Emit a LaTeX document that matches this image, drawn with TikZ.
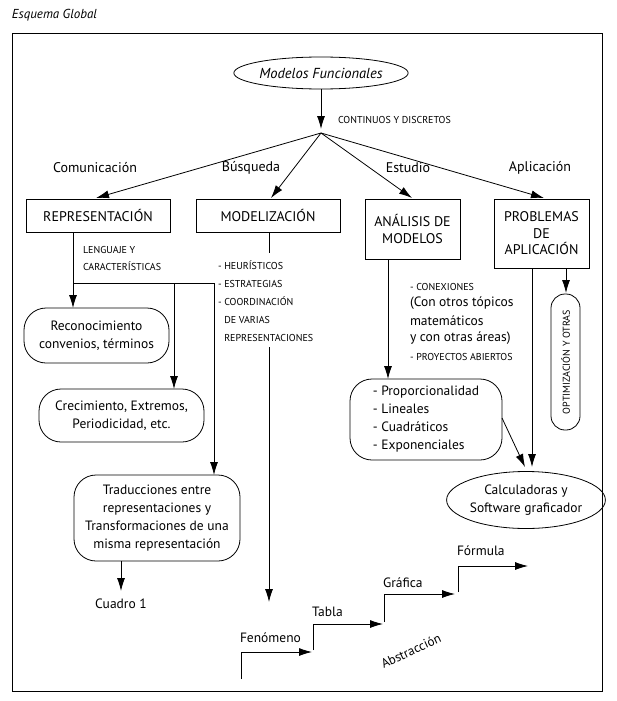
\documentclass[tikz,border=0pt]{standalone}
\usepackage{fontspec}
\setmainfont{PT Sans}
\usetikzlibrary{arrows.meta,shapes.geometric}
\begin{document}
\begin{tikzpicture}[x=1pt,y=-1pt,
  every node/.style={inner sep=0pt, outer sep=0pt},
  sqbox/.style={draw, line width=0.8pt, font=\fontsize{14}{17}\selectfont, align=center},
  rbox/.style={draw, line width=0.8pt, rounded corners=22pt, font=\fontsize{13.5}{18}\selectfont, align=center},
  lbl/.style={font=\fontsize{14}{17}\selectfont},
  capt/.style={font=\fontsize{10}{18}\selectfont, align=left},
  txt/.style={font=\fontsize{13.5}{18}\selectfont, align=left},
  arr/.style={line width=0.8pt, -{Latex[length=13pt,width=8pt]}},
  ln/.style={line width=0.8pt}]
\useasboundingbox (0,0) rectangle (616,701);

% title and frame
\node[font=\itshape\fontsize{13}{16}\selectfont, anchor=west] (title) at (12,15) {Esquema Global};
\draw[line width=0.9pt] (12,33) rectangle (602,691);

% top
\node[ellipse, draw, line width=0.8pt, minimum width=142pt, minimum height=32pt,
      font=\itshape\fontsize{14.5}{17}\selectfont] (mf) at (321,73) {Modelos Funcionales};
\coordinate (fantop) at (321,129);
\coordinate (fan) at (321,133);
\draw[arr] (mf.south) -- (fantop);
\node[capt, anchor=west] (cyd) at (338,120) {CONTINUOS Y DISCRETOS};

% four boxes
\node[sqbox, minimum width=144pt, minimum height=33pt] (rep) at (98,215.5) {REPRESENTACIÓN};
\node[sqbox, minimum width=144pt, minimum height=33pt] (mod) at (268,215.5) {MODELIZACIÓN};
\node[sqbox, minimum width=95pt, minimum height=60pt] (ana) at (412.5,229) {ANÁLISIS DE\\MODELOS};
\node[sqbox, minimum width=95pt, minimum height=69pt, font=\fontsize{14}{16.5}\selectfont] (pro) at (541.5,233.5) {PROBLEMAS\\DE\\APLICACIÓN};

\coordinate (trep) at (96,198);
\coordinate (tmod) at (271,198);
\coordinate (tana) at (412,198);
\coordinate (tpro) at (544,198);
\draw[arr] (fan) -- (trep);
\draw[arr] (fan) -- (tmod);
\draw[arr] (fan) -- (tana);
\draw[arr] (fan) -- (tpro);

\node[lbl] (lcom) at (95,168) {Comunicación};
\node[lbl] (lbus) at (251,168) {Búsqueda};
\node[lbl] (lest) at (408,168) {Estudio};
\node[lbl] (lapl) at (540,168) {Aplicación};

% representacion branch
\node[capt, anchor=west, font=\fontsize{10}{17}\selectfont] (leng) at (83,258.5) {LENGUAJE Y\\CARACTERÍSTICAS};
\node[rbox, minimum width=145pt, minimum height=55pt] (reco) at (96.5,335.5) {Reconocimiento\\convenios, términos};
\node[rbox, minimum width=165pt, minimum height=53pt] (crec) at (121.5,415.5) {Crecimiento, Extremos,\\Periodicidad, etc.};
\node[rbox, minimum width=166pt, minimum height=86pt] (trad) at (157,518) {Traducciones entre\\representaciones y\\Transformaciones de una\\misma representación};
\coordinate (r0) at (73,232);
\coordinate (r1) at (73,283);
\coordinate (r2) at (174,283);
\coordinate (r3) at (214,283);
\draw[arr] (r0) -- (r0 |- reco.north);
\draw[ln] (r1) -- (r3);
\draw[arr] (r2) -- (r2 |- crec.north);
\draw[arr] (r3) -- (r3 |- trad.north);
\node[txt] (cua) at (121,604) {Cuadro 1};
\coordinate (c0) at (121,561);
\coordinate (c1) at (121,591);
\draw[arr] (c0) -- (c1);

% modelizacion branch
\node[capt, anchor=west] (heur) at (218,301) {- HEURÍSTICOS\\- ESTRATEGIAS\\- COORDINACIÓN\\\phantom{- }DE VARIAS\\\phantom{- }REPRESENTACIONES};
\coordinate (m0) at (269,232);
\coordinate (m1) at (269,253);
\coordinate (m2) at (269,347);
\coordinate (m3) at (269,602);
\draw[ln] (m0) -- (m1);
\draw[arr] (m2) -- (m3);

% analisis branch
\node[capt, anchor=west] (cone) at (410,287) {- CONEXIONES};
\node[txt, anchor=west] (otr1) at (410,303.5) {(Con otros tópicos};
\node[txt, anchor=west] (otr2) at (410,321) {matemáticos};
\node[txt, anchor=west] (otr3) at (410,338.5) {y con otras áreas)};
\node[capt, anchor=west] (proy) at (410,357) {- PROYECTOS ABIERTOS};
\node[rbox, minimum width=152pt, minimum height=81pt, align=left] (prop) at (426,419.5) {- Proporcionalidad\\- Lineales\\- Cuadráticos\\- Exponenciales};
\coordinate (a0) at (388,259);
\draw[arr] (a0) -- (a0 |- prop.north);

% problemas branch
\node[draw, line width=0.8pt, rounded corners=14pt, rotate=90, minimum width=136pt, minimum height=29pt,
      font=\fontsize{10}{12}\selectfont] (opt) at (565.5,362) {OPTIMIZACIÓN Y OTRAS};
\coordinate (p0) at (566,268);
\coordinate (p1) at (566,293);
\draw[arr] (p0) -- (p1);
\node[ellipse, draw, line width=0.8pt, minimum width=138pt, minimum height=57pt,
      font=\fontsize{13.5}{18}\selectfont, align=center] (calc) at (526,500) {Calculadoras y\\Software graficador};
\coordinate (q0) at (532,268);
\coordinate (q1) at (532,467);
\draw[arr] (q0) -- (q1);
\coordinate (d0) at (502,418);
\coordinate (d1) at (525,467);
\draw[arr] (d0) -- (d1);

% staircase
\draw[arr] (241,679) |- (312,652);
\draw[arr] (313,650) |- (383,624);
\draw[arr] (384,622) |- (455,594);
\draw[arr] (458,592) |- (528,566);
\node[txt, anchor=west] (fen) at (240,638) {Fenómeno};
\node[txt, anchor=west] (tab) at (312,612) {Tabla};
\node[txt, anchor=west] (gra) at (383,583) {Gráfica};
\node[txt, anchor=west] (for) at (457,551) {Fórmula};
\node[txt, rotate=25, font=\fontsize{13}{16}\selectfont] (abs) at (411,651) {Abstracción};
\end{tikzpicture}
\end{document}
